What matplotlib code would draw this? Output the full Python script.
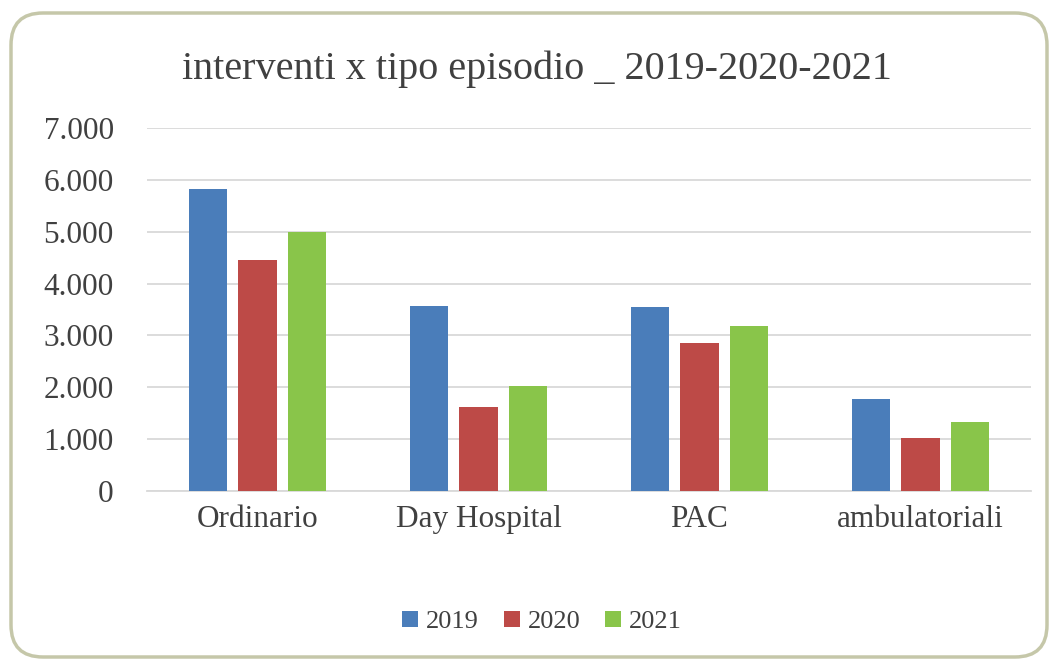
import matplotlib
matplotlib.use('Agg')
import numpy as np
from matplotlib import pyplot as plt
from matplotlib.patches import FancyBboxPatch
from matplotlib.ticker import FuncFormatter

# dati
categorie = ['Ordinario', 'Day Hospital', 'PAC', 'ambulatoriali']
anni = ['2019', '2020', '2021']
v2019 = [5830, 3560, 3540, 1770]
v2020 = [4460, 1620, 2850, 1020]
v2021 = [4990, 2020, 3190, 1340]
colori = ['#4a7dba', '#bd4a47', '#89c54a']

plt.rcParams['font.family'] = ['Liberation Serif', 'DejaVu Serif']

fig = plt.figure(figsize=(10.55, 6.61), dpi=100)
ax = fig.add_axes([147/1055, 1 - 491/661, 884/1055, 363/661])

x = np.arange(len(categorie))
step = 0.226
for i, (vals, col, lab) in enumerate(zip([v2019, v2020, v2021], colori, anni)):
    ax.bar(x + (i - 1) * step, vals, width=0.172, color=col, label=lab, zorder=3)

ax.set_xlim(-0.5, 3.5)
ax.set_ylim(0, 7000)
ax.set_yticks(range(0, 7001, 1000))
ax.yaxis.set_major_formatter(FuncFormatter(lambda v, p: f'{int(v):,}'.replace(',', '.')))
ax.set_xticks(x)
ax.set_xticklabels(categorie)
ax.grid(axis='y', color='#d9d9d9', lw=1.3, zorder=0)
for s in ['top', 'right', 'left']:
    ax.spines[s].set_visible(False)
ax.spines['bottom'].set_color('#d9d9d9')
ax.spines['bottom'].set_linewidth(1.3)
ax.tick_params(length=0, labelsize=22.5, labelcolor='#404040')
ax.tick_params(axis='y', pad=24)
ax.tick_params(axis='x', pad=10)

fig.text(537/1055, 1 - 69/661, 'interventi x tipo episodio _ 2019-2020-2021',
         ha='center', va='center', fontsize=28.9, color='#404040')

fig.legend(loc='center', bbox_to_anchor=(542/1055, 1 - 622/661), ncol=3, frameon=False,
           fontsize=19, handlelength=0.6, handleheight=0.6, handletextpad=0.3,
           columnspacing=0.95, labelcolor='#404040')

# cornice arrotondata
bordo = FancyBboxPatch((11, 4), 1036, 644, boxstyle='round,pad=0,rounding_size=32',
                       transform=None, fill=False, ec='#c5c7a9', lw=2.5)
fig.patches.append(bordo)

fig.savefig('out.png', dpi=100)
